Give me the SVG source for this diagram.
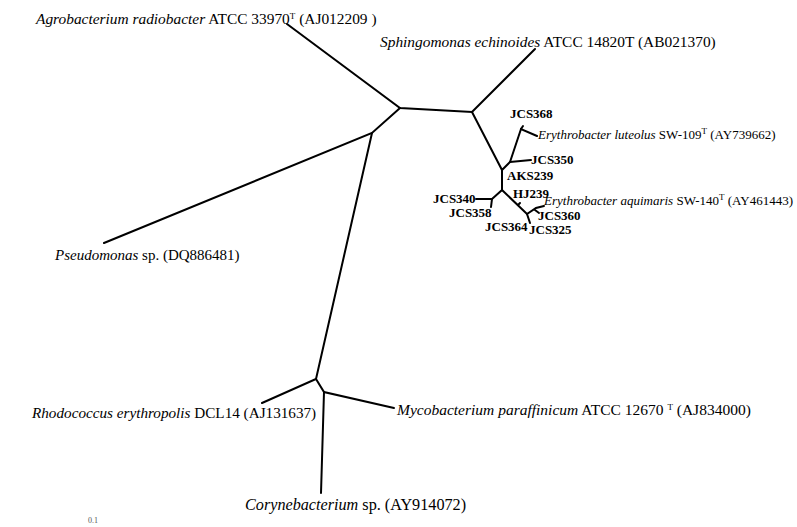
<svg xmlns="http://www.w3.org/2000/svg" width="797" height="527" viewBox="0 0 797 527">
<style>
.e{stroke:#000;stroke-width:2;fill:none;stroke-linecap:round}
text{font-family:"Liberation Serif","Times New Roman",serif;fill:#000}
.big{font-size:15px}
.sm{font-size:13px}
.b{font-size:13px;font-weight:bold}
.i{font-style:italic}
.sup{font-size:9px}
</style>
<rect width="797" height="527" fill="#fff"/>
<g id="connectors">
<path class="e" d="M287,24 L400,108 L472,112 L535,49"/>
<path class="e" d="M400,108 L372,133 L104,243"/>
<path class="e" d="M372,133 L316,379 L262,403"/>
<path class="e" d="M316,379 L324,392 L394,408"/>
<path class="e" d="M324,392 L321,493"/>
<path class="e" d="M472,112 L502,170 L510,162 L521,129 L537,136"/>
<path class="e" d="M521,129 L523,126"/>
<path class="e" d="M510,162 L531,160"/>
<path class="e" d="M502,170 L502,190 L492,199 L476,199"/>
<path class="e" d="M492,199 L491,207"/>
<path class="e" d="M502,190 L527,214 L536,208 L544,206"/>
<path class="e" d="M518,205 L520,203"/>
<path class="e" d="M535,210 L539,213"/>
<path class="e" d="M527,214 L530,223"/>
</g>
<g id="agrobacterium"><text class="big" x="36" y="24" style="font-size:15.4px"><tspan class="i">Agrobacterium radiobacter</tspan> ATCC 33970<tspan class="sup" dy="-5">T</tspan><tspan dy="5"> (AJ012209 )</tspan></text></g>
<g id="sphingomonas"><text class="big" x="380" y="47" style="font-size:15.4px"><tspan class="i">Sphingomonas echinoides</tspan>  ATCC 14820T (AB021370)</text></g>
<g id="jcs368"><text class="b" x="510" y="118">JCS368</text></g>
<g id="luteolus"><text class="sm" x="538" y="139"><tspan class="i">Erythrobacter luteolus</tspan> SW-109<tspan class="sup" dy="-5">T</tspan><tspan dy="5"> (AY739662)</tspan></text></g>
<g id="jcs350"><text class="b" x="531" y="164">JCS350</text></g>
<g id="aks239"><text class="b" x="507" y="180">AKS239</text></g>
<g id="jcs340"><text class="b" x="433" y="203">JCS340</text></g>
<g id="jcs358"><text class="b" x="449" y="217">JCS358</text></g>
<g id="hj239"><text class="b" x="513" y="198">HJ239</text></g>
<g id="aquimaris"><text class="sm" x="544" y="205"><tspan class="i">Erythrobacter aquimaris</tspan> SW-140<tspan class="sup" dy="-5">T</tspan><tspan dy="5"> (AY461443)</tspan></text></g>
<g id="jcs360"><text class="b" x="538" y="220">JCS360</text></g>
<g id="jcs364"><text class="b" x="485" y="231">JCS364</text></g>
<g id="jcs325"><text class="b" x="529" y="234">JCS325</text></g>
<g id="pseudomonas"><text class="big" x="55" y="260"><tspan class="i">Pseudomonas</tspan> sp. (DQ886481)</text></g>
<g id="rhodococcus"><text class="big" x="32" y="418" style="font-size:15.2px"><tspan class="i">Rhodococcus erythropolis</tspan> DCL14 (AJ131637)</text></g>
<g id="mycobacterium"><text class="big" x="397" y="415" style="font-size:15.5px"><tspan class="i">Mycobacterium paraffinicum</tspan> ATCC 12670 <tspan class="sup" dy="-5">T</tspan><tspan dy="5">  (AJ834000)</tspan></text></g>
<g id="corynebacterium"><text class="big" x="245" y="510" style="font-size:16.2px"><tspan class="i">Corynebacterium</tspan> sp. (AY914072)</text></g>
<g id="scale"><text x="88" y="523" style="font-size:8px;fill:#555">0.1</text></g>
</svg>
